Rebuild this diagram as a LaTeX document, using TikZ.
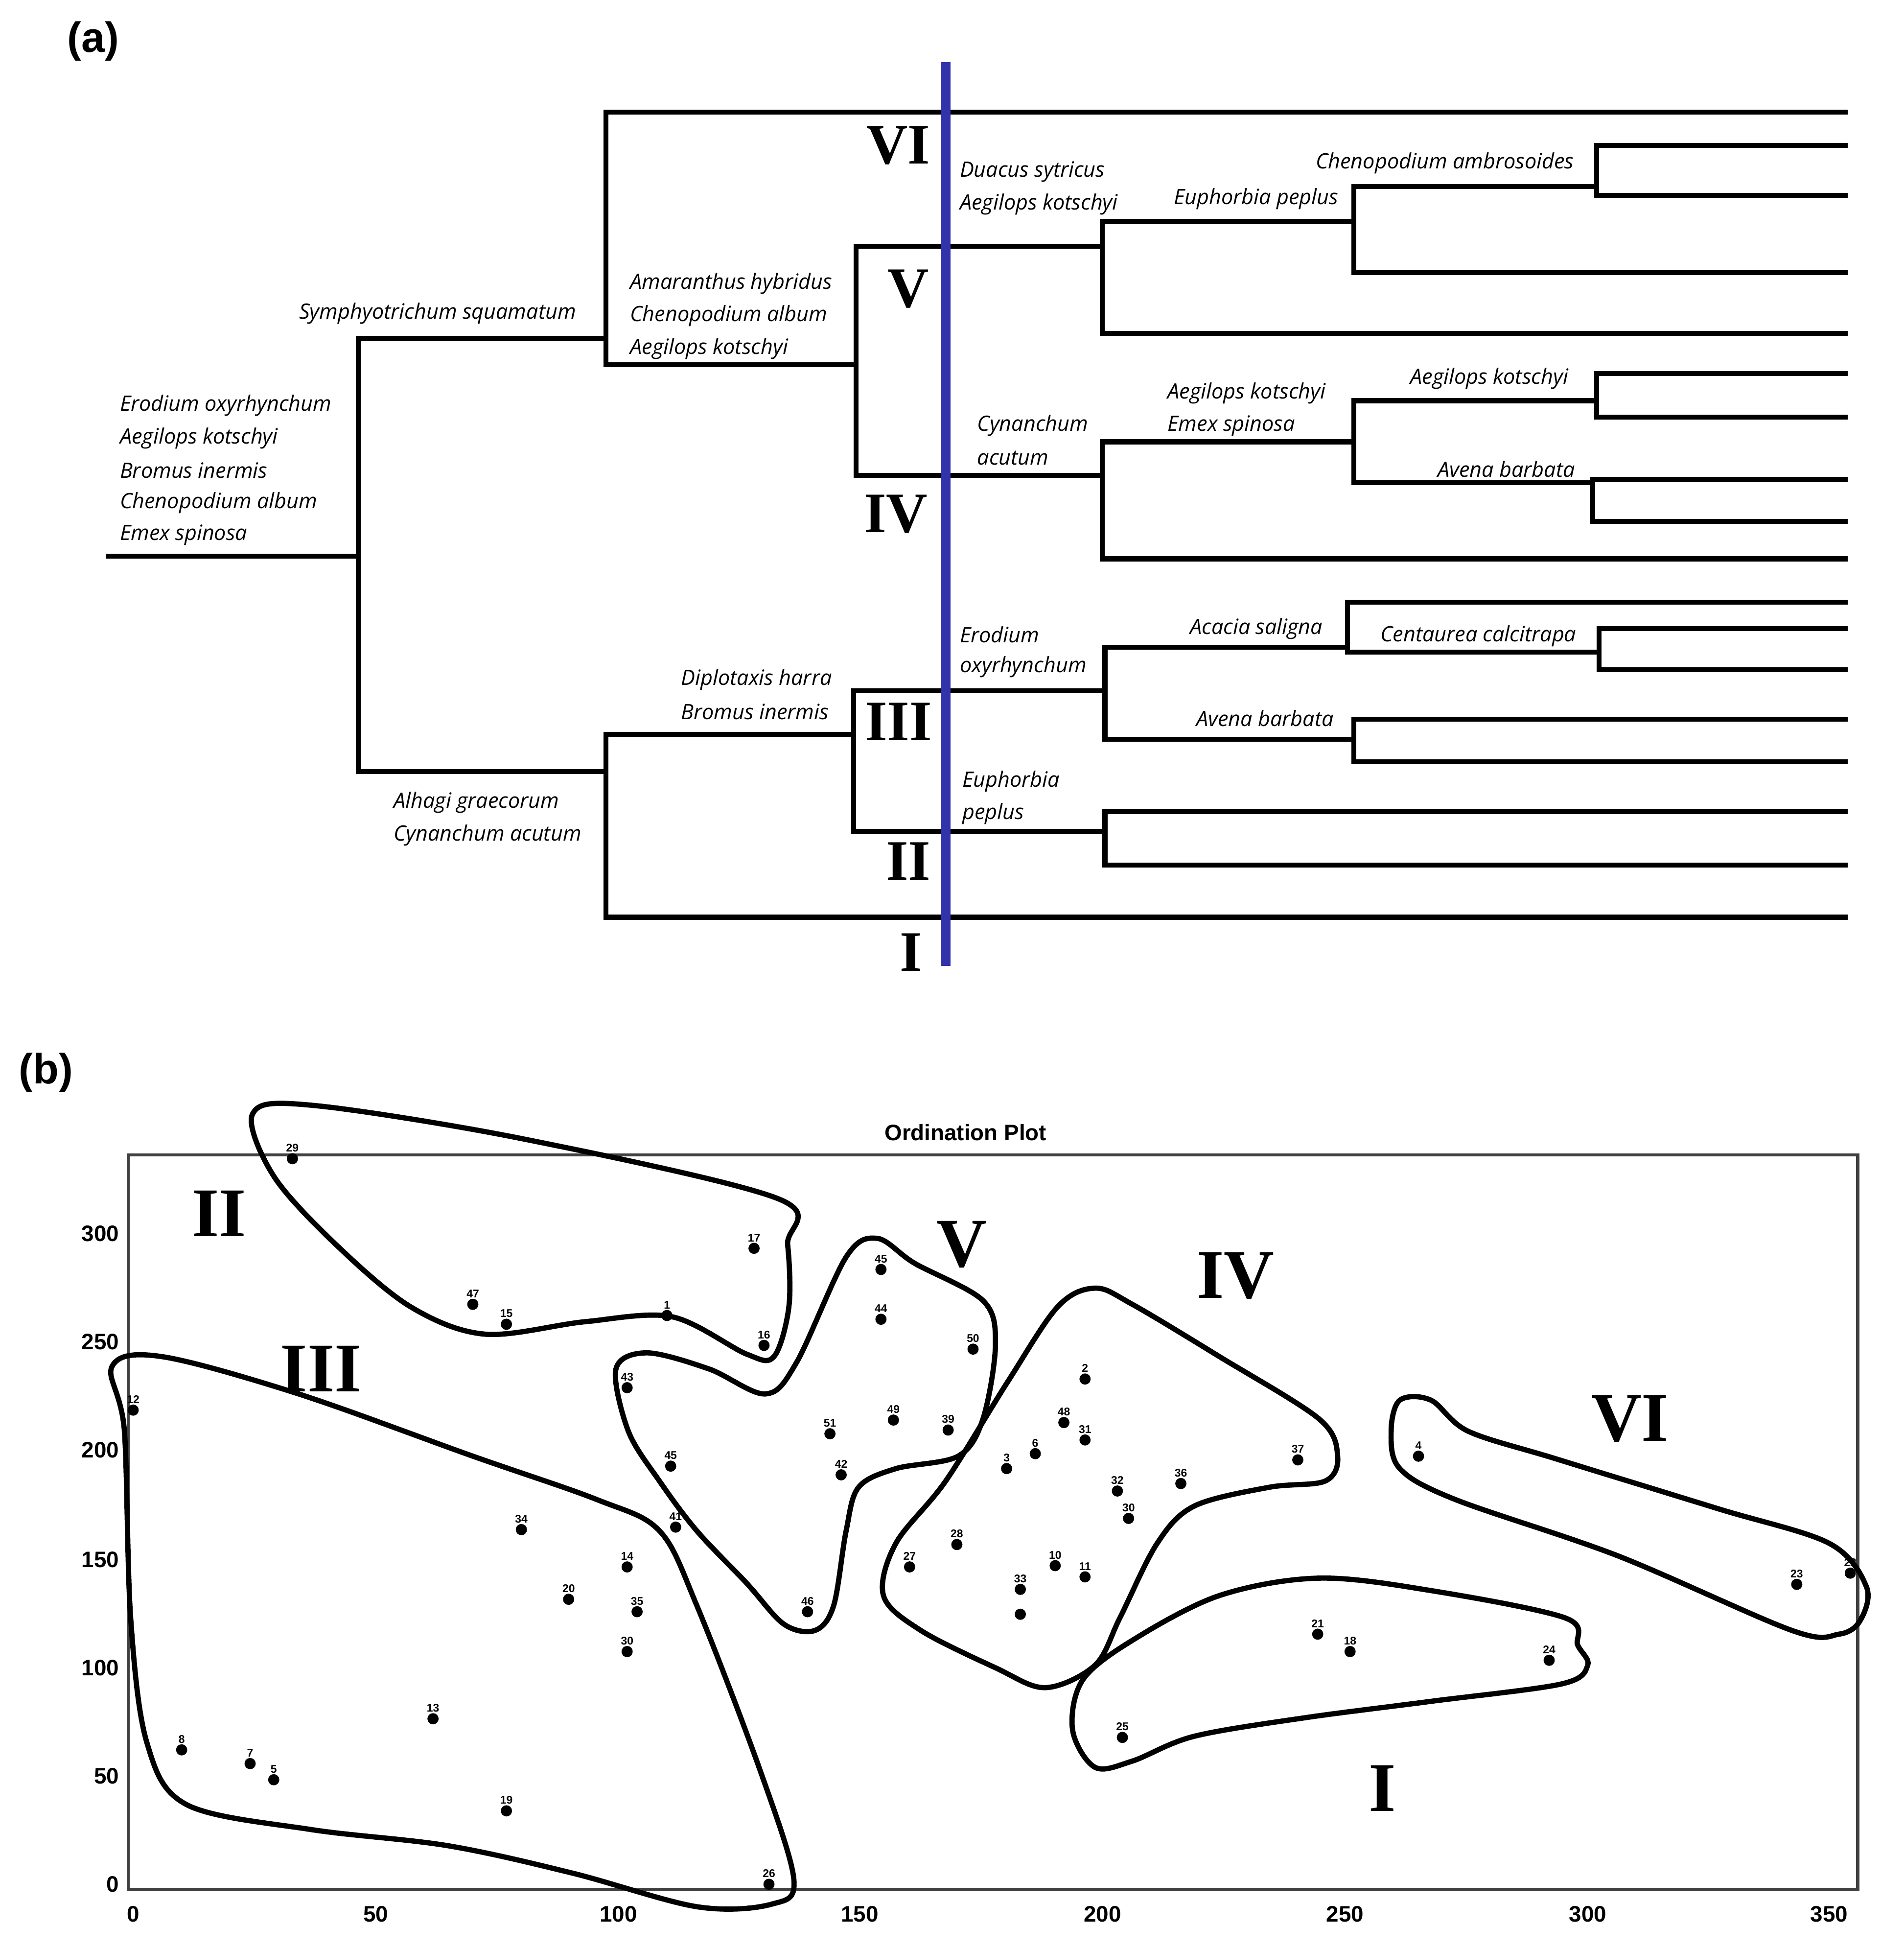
\documentclass[tikz,border=0pt]{standalone}
\usepackage{fontspec}
\setmainfont{Liberation Serif}
\newfontfamily\lab{Open Sans}
\newfontfamily\ax{Liberation Sans}
\begin{document}
\begin{tikzpicture}[x=0.5pt,y=-0.5pt,
  br/.style={line width=2pt,line cap=rect},
  sp/.style={font=\lab\itshape\fontsize{8.5}{10}\selectfont,anchor=west,inner sep=0pt},
  rn/.style={font=\bfseries\fontsize{23}{24}\selectfont,inner sep=0pt},
  rnb/.style={font=\bfseries\fontsize{28}{30}\selectfont,inner sep=0pt},
  tick/.style={font=\ax\bfseries\fontsize{9}{10}\selectfont,inner sep=0pt},
  pl/.style={font=\ax\bfseries\fontsize{4.5}{5}\selectfont,inner sep=0pt,above=2.5pt},
  cl/.style={line width=2.1pt,smooth cycle,tension=0.55}]
\useasboundingbox (0,0) rectangle (1530,1566);
% ---------- (a)
\node[font=\ax\bfseries\fontsize{17}{18}\selectfont] (la) at (75,33) {(a)};
\draw[br] (87,447)--(288,447) (288,272)--(288,620);
\draw[br] (288,272)--(487,272) (487,90)--(487,293) (487,90)--(1483,90);
\draw[br] (487,293)--(688,293) (688,198)--(688,382);
\draw[br] (688,198)--(886,198) (886,178)--(886,268) (886,268)--(1483,268);
\draw[br] (886,178)--(1088,178) (1088,150)--(1088,219) (1088,219)--(1483,219);
\draw[br] (1088,150)--(1283,150) (1283,117)--(1283,157) (1283,117)--(1483,117) (1283,157)--(1483,157);
\draw[br] (688,382)--(886,382) (886,355)--(886,449) (886,449)--(1483,449);
\draw[br] (886,355)--(1088,355) (1088,322)--(1088,388);
\draw[br] (1088,322)--(1283,322) (1283,300)--(1283,335) (1283,300)--(1483,300) (1283,335)--(1483,335);
\draw[br] (1088,388)--(1280,388) (1280,385)--(1280,419) (1280,385)--(1483,385) (1280,419)--(1483,419);
\draw[br] (288,620)--(487,620) (487,590)--(487,737) (487,737)--(1483,737);
\draw[br] (487,590)--(686,590) (686,555)--(686,668);
\draw[br] (686,555)--(888,555) (888,520)--(888,594);
\draw[br] (888,520)--(1083,520) (1083,484)--(1083,524) (1083,484)--(1483,484);
\draw[br] (1083,524)--(1285,524) (1285,505)--(1285,538) (1285,505)--(1483,505) (1285,538)--(1483,538);
\draw[br] (888,594)--(1088,594) (1088,578)--(1088,612) (1088,578)--(1483,578) (1088,612)--(1483,612);
\draw[br] (686,668)--(888,668) (888,652)--(888,695) (888,652)--(1483,652) (888,695)--(1483,695);
\node[rn] (r6) at (722,117) {VI};
\node[rn] (r5) at (730,232) {V};
\node[rn] (r4) at (720,413) {IV};
\node[rn] (r3) at (722,580) {III};
\node[rn] (r2) at (730,692) {II};
\node[rn] (r1) at (732,765) {I};
\draw[line width=4pt,color={rgb,255:red,50;green,50;blue,170}] (760,50)--(760,776);
\node[sp] (t1) at (240,252) {Symphyotrichum squamatum};
\node[sp] (t2) at (96,326) {Erodium oxyrhynchum};
\node[sp] (t3) at (96,352) {Aegilops kotschyi};
\node[sp] (t4) at (96,378) {Bromus inermis};
\node[sp] (t5) at (96,404) {Chenopodium album};
\node[sp] (t6) at (96,430) {Emex spinosa};
\node[sp] (t7) at (506,228) {Amaranthus hybridus};
\node[sp] (t8) at (506,254) {Chenopodium album};
\node[sp] (t9) at (506,280) {Aegilops kotschyi};
\node[sp] (t10) at (771,138) {Duacus sytricus};
\node[sp] (t11) at (771,164) {Aegilops kotschyi};
\node[sp] (t12) at (943,160) {Euphorbia peplus};
\node[sp] (t13) at (1057,131) {Chenopodium ambrosoides};
\node[sp] (t14) at (785,342) {Cynanchum};
\node[sp] (t15) at (785,368) {acutum};
\node[sp] (t16) at (938,316) {Aegilops kotschyi};
\node[sp] (t17) at (938,342) {Emex spinosa};
\node[sp] (t18) at (1133,304) {Aegilops kotschyi};
\node[sp] (t19) at (1155,377) {Avena barbata};
\node[sp] (t20) at (771,510) {Erodium};
\node[sp] (t21) at (771,536) {oxyrhynchum};
\node[sp] (t22) at (956,505) {Acacia saligna};
\node[sp] (t23) at (1109,511) {Centaurea calcitrapa};
\node[sp] (t24) at (961,577) {Avena barbata};
\node[sp] (t25) at (547,546) {Diplotaxis harra};
\node[sp] (t26) at (547,572) {Bromus inermis};
\node[sp] (t27) at (316,645) {Alhagi graecorum};
\node[sp] (t28) at (316,671) {Cynanchum acutum};
\node[sp] (t29) at (773,628) {Euphorbia};
\node[sp] (t30) at (773,654) {peplus};
% ---------- (b)
\node[font=\ax\bfseries\fontsize{17}{18}\selectfont] (lb) at (37,862) {(b)};
\node[font=\ax\bfseries\fontsize{9}{10}\selectfont] (title) at (776,910) {Ordination Plot};
\draw[line width=1.2pt,color=black!75] (103,928) rectangle (1493,1518);
\foreach \v/\xx in {0/107,50/302,100/497,150/691,200/886,250/1081,300/1276,350/1470}
  \node[tick] (xt\v) at (\xx,1538) {\v};
\foreach \v/\yy in {0/1514,50/1427,100/1340,150/1253,200/1165,250/1078,300/991}
  \node[tick,anchor=east] (yt\v) at (96,\yy) {\v};
\foreach[count=\k] \lbl/\px/\py in {29/235/931,47/380/1048,15/407/1064,1/536/1057,17/606/1003,16/614/1081,
  12/107/1133,34/419/1229,20/457/1285,14/504/1259,35/512/1295,30/504/1327,13/348/1381,8/146/1406,
  7/201/1417,5/220/1430,19/407/1455,26/618/1514,43/504/1115,45/539/1178,41/543/1227,46/649/1295,
  45/708/1020,44/708/1060,50/782/1084,49/718/1141,51/667/1152,39/762/1149,42/676/1185,
  2/872/1108,48/855/1143,31/872/1157,6/832/1168,3/809/1180,32/898/1198,30/907/1220,36/949/1192,
  37/1043/1173,28/769/1241,27/731/1259,10/848/1258,11/872/1267,33/820/1277,21/1059/1313,
  18/1085/1327,24/1245/1334,25/902/1396,4/1140/1170,23/1444/1273,22/1487/1264}
  {\fill (\px,\py) circle (4.5);
   \node[pl] (p\k) at (\px,\py) {\lbl};}
\fill (820,1297) circle (4.5);
% clusters
\draw[cl] plot coordinates {(203,895) (250,888) (420,915) (625,963) (633,1000) (634,1050) (622,1090) (600,1088) (540,1058) (470,1062) (390,1072) (330,1050) (270,1000) (220,945)};
\draw[cl] plot coordinates {(90,1098) (130,1090) (240,1120) (380,1170) (480,1205) (530,1230) (560,1290) (610,1420) (638,1510) (620,1530) (560,1532) (460,1505) (360,1483) (250,1470) (150,1450) (118,1400) (105,1300) (100,1150)};
\draw[cl] plot coordinates {(495,1100) (520,1087) (570,1100) (615,1120) (640,1095) (680,1010) (705,995) (735,1015) (790,1045) (800,1080) (790,1140) (770,1170) (720,1180) (690,1195) (680,1230) (670,1290) (655,1310) (630,1305) (600,1272) (560,1230) (530,1190) (505,1150)};
\draw[cl] plot coordinates {(880,1035) (910,1048) (980,1090) (1060,1140) (1075,1170) (1065,1190) (1020,1195) (960,1210) (930,1240) (900,1300) (880,1338) (840,1356) (800,1340) (740,1310) (710,1282) (720,1240) (760,1190) (810,1110) (850,1050)};
\draw[cl] plot coordinates {(870,1350) (910,1318) (980,1282) (1060,1268) (1150,1278) (1258,1300) (1268,1322) (1276,1338) (1255,1353) (1150,1367) (1050,1380) (960,1395) (910,1415) (880,1420) (862,1390)};
\draw[cl] plot coordinates {(1125,1125) (1150,1125) (1180,1150) (1250,1172) (1380,1212) (1470,1240) (1500,1275) (1495,1302) (1478,1313) (1440,1310) (1300,1250) (1170,1205) (1125,1180) (1118,1150)};
\node[rnb] (c2) at (176,975) {II};
\node[rnb] (c3) at (258,1100) {III};
\node[rnb] (c5) at (773,1000) {V};
\node[rnb] (c4) at (993,1025) {IV};
\node[rnb] (c6) at (1310,1140) {VI};
\node[rnb] (c1) at (1111,1437) {I};
\end{tikzpicture}
\end{document}
